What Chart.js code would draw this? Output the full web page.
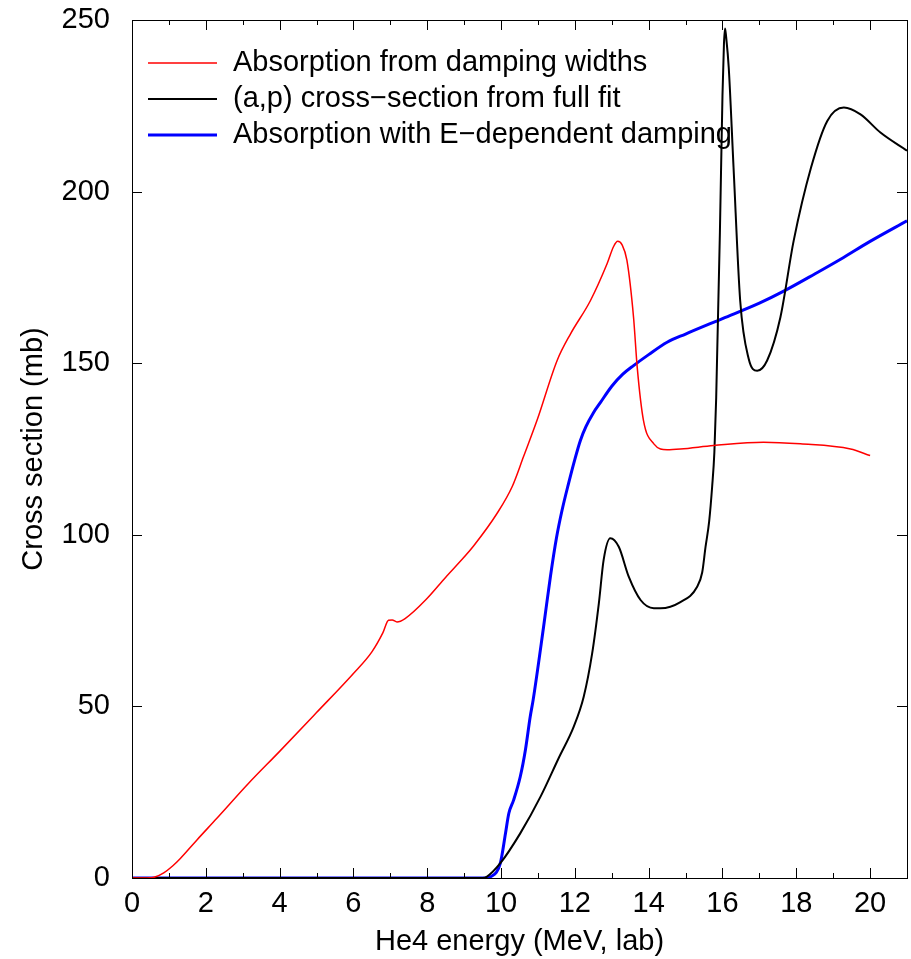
<!DOCTYPE html>
<html>
<head>
<meta charset="utf-8">
<script src="https://cdn.jsdelivr.net/npm/chart.js"></script>
<style>
  body { margin: 0; background: #fff; }
  #wrap { width: 911px; height: 959px; }
</style>
</head>
<body>
<div id="wrap"><canvas id="grafico"></canvas></div>
<script>
// red: absorption from damping widths
const redX = [0, 0.41, 0.6, 0.86, 1.1, 1.31, 1.76, 2.3, 3.16, 4.0, 5.0, 6.0, 6.5, 6.8, 6.95, 7.05, 7.18, 7.4, 8.0, 8.49, 9.0, 9.26, 9.89, 10.3, 10.61, 10.98, 11.52, 11.88, 12.42, 12.87, 13.05, 13.16, 13.28, 13.41, 13.59, 13.69, 13.86, 14.14, 14.5, 14.86, 15.76, 17.11, 18.11, 19.47, 20];
const redY = [0, 0, 0.2, 1.5, 3.5, 5.7, 11.1, 17.4, 27.6, 36.9, 48.2, 59.6, 65.9, 71.5, 75.1, 75.2, 74.6, 75.6, 81.5, 87.5, 93.5, 96.8, 106.2, 114, 122.8, 133.5, 150.8, 158.5, 168.2, 178.9, 184, 185.5, 184.5, 180, 163.4, 148.8, 133.3, 126.5, 124.8, 125, 126, 127, 126.5, 125, 123.1];

// black: (a,p) from full fit
const blackX = [0, 9.5, 9.62, 9.98, 10.52, 11.07, 11.56, 11.97, 12.24, 12.47, 12.65, 12.78, 12.96, 13.19, 13.46, 13.78, 14.14, 14.32, 14.86, 15.31, 15.45, 15.54, 15.64, 15.72, 15.78, 15.83, 15.93, 16.0, 16.04, 16.07, 16.1, 16.17, 16.3, 16.48, 16.71, 16.94, 17.21, 17.57, 17.93, 18.4, 18.84, 19.29, 19.74, 20.28, 21.0];
const blackY = [0, 0, 0.4, 4.3, 13, 23.7, 34.9, 44.1, 52.8, 65.5, 80, 92.7, 99, 96.5, 87.8, 81, 78.6, 78.6, 80.4, 84.8, 89, 96.4, 104, 114, 124, 140, 188, 228, 243, 247.5, 245, 236.1, 207, 168.2, 151.3, 147.8, 150.8, 163.4, 185.7, 207, 220.6, 224.5, 222.5, 217.2, 211.9];

// blue: E-dependent damping
const blueX = [0, 9.6, 9.71, 9.98, 10.12, 10.21, 10.34, 10.52, 10.66, 10.79, 10.87, 11.15, 11.34, 11.5, 11.65, 11.83, 12.0, 12.15, 12.3, 12.5, 12.69, 13.0, 13.3, 13.59, 14.0, 14.5, 15.0, 16.0, 17.0, 17.66, 18.5, 19.2, 20.0, 21.0];
const blueY = [0, 0, 0.3, 4.3, 13, 18.8, 22.7, 29.5, 37.3, 47, 51.9, 73, 88, 99, 107, 115, 122, 127.5, 131.5, 135.5, 138.5, 143.3, 146.8, 149.3, 152.5, 156.1, 158.5, 163, 167.5, 171, 176, 180.3, 185.5, 191.5];

const etiquetas = ['Absorption from damping widths', '(a,p) cross\u2212section from full fit', 'Absorption with E\u2212dependent damping'];
const xTicks = [0, 2, 4, 6, 8, 10, 12, 14, 16, 18, 20];
const yTicks = [0, 50, 100, 150, 200, 250];

const fuente = { family: '"Liberation Sans", Arial, sans-serif', size: 29 };

function pares(xs, ys) {
  return xs.map((x, i) => ({ x: x, y: ys[i] }));
}

// marco y ticks hacia adentro, estilo gnuplot
const marco = {
  id: 'marco',
  afterDatasetsDraw(chart) {
    const ctx = chart.ctx;
    const a = chart.chartArea;
    const sx = chart.scales.x, sy = chart.scales.y;
    ctx.save();
    ctx.strokeStyle = '#000';
    ctx.lineWidth = 1;
    ctx.beginPath();
    for (let v = 0; v <= 21; v++) {
      const p = Math.round(sx.getPixelForValue(v)) + 0.5;
      const len = v % 2 === 0 ? 10 : 5;
      ctx.moveTo(p, a.bottom); ctx.lineTo(p, a.bottom - len);
      ctx.moveTo(p, a.top); ctx.lineTo(p, a.top + len);
    }
    yTicks.forEach(v => {
      const p = Math.round(sy.getPixelForValue(v)) + 0.5;
      ctx.moveTo(a.left, p); ctx.lineTo(a.left + 10, p);
      ctx.moveTo(a.right, p); ctx.lineTo(a.right - 10, p);
    });
    ctx.stroke();
    ctx.strokeRect(Math.round(a.left) + 0.5, Math.round(a.top) + 0.5, Math.round(a.right - a.left), Math.round(a.bottom - a.top));

    // leyenda
    ctx.font = fuente.size + 'px ' + fuente.family;
    ctx.textBaseline = 'middle';
    ctx.fillStyle = '#000';
    const filas = [63, 99, 135];
    chart.data.datasets.forEach((d, i) => {
      ctx.strokeStyle = d.borderColor;
      ctx.lineWidth = d.borderWidth;
      ctx.beginPath();
      ctx.moveTo(148, filas[i]);
      ctx.lineTo(217, filas[i]);
      ctx.stroke();
      ctx.fillText(d.label, 233, filas[i]);
    });
    ctx.restore();
  }
};

const grafico = document.getElementById('grafico');
new Chart(grafico, {
  type: 'line',
  data: {
    datasets: [
      { label: etiquetas[0], data: pares(redX, redY), borderColor: '#ff0000', borderWidth: 1.5, pointRadius: 0, cubicInterpolationMode: 'monotone' },
      { label: etiquetas[1], data: pares(blackX, blackY), borderColor: '#000000', borderWidth: 2, pointRadius: 0, cubicInterpolationMode: 'monotone' },
      { label: etiquetas[2], data: pares(blueX, blueY), borderColor: '#0000ff', borderWidth: 3, pointRadius: 0, cubicInterpolationMode: 'monotone' }
    ]
  },
  options: {
    responsive: true,
    maintainAspectRatio: false,
    animation: false,
    layout: { padding: { top: 20, right: 4, left: 0, bottom: 0 } },
    plugins: { legend: { display: false }, tooltip: { enabled: false } },
    scales: {
      x: {
        type: 'linear', min: 0, max: 21,
        grid: { display: false }, border: { display: false },
        afterBuildTicks: s => { s.ticks = xTicks.map(v => ({ value: v })); },
        afterFit: s => { s.height = 81; s.paddingLeft = 0; s.paddingRight = 0; },
        ticks: { font: fuente, color: '#000', padding: 1, maxRotation: 0, autoSkip: false },
        title: { display: true, text: 'He4 energy (MeV, lab)', font: fuente, color: '#000', padding: { top: 0, bottom: 0 } }
      },
      y: {
        type: 'linear', min: 0, max: 250,
        grid: { display: false }, border: { display: false },
        afterBuildTicks: s => { s.ticks = yTicks.map(v => ({ value: v })); },
        afterFit: s => { s.width = 132; s.paddingTop = 0; s.paddingBottom = 0; },
        ticks: { font: fuente, color: '#000', padding: 14, autoSkip: false },
        title: { display: true, text: 'Cross section (mb)', font: fuente, color: '#000', padding: { top: 17, bottom: 0 } }
      }
    }
  },
  plugins: [marco]
});
</script>
</body>
</html>
